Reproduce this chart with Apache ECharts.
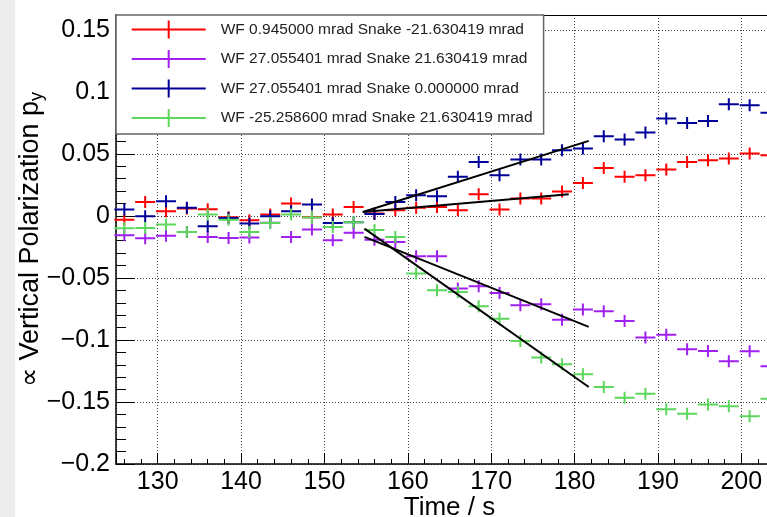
<!DOCTYPE html>
<html>
<head>
<meta charset="utf-8">
<script src="https://cdn.jsdelivr.net/npm/echarts@6/dist/echarts.min.js"></script>
<style>
  html, body { margin: 0; padding: 0; background: #ececec; }
  #chart { position: absolute; left: 15px; top: 0; width: 752px; height: 517px; background: #fff; }
</style>
</head>
<body>
<div id="chart"></div>
<script>
// measurement times (s)
const times = [126, 128.5, 131, 133.5, 136, 138.5, 141, 143.5, 146, 148.5, 151, 153.5, 156, 158.5, 161, 163.5,
  166, 168.5, 171, 173.5, 176, 178.5, 181, 183.5, 186, 188.5, 191, 193.5, 196, 198.5, 201, 203.5];

const redValues = [-0.003, 0.0113, 0.0038, 0.006, 0.0054, -0.001, -0.0035, 0.0011, 0.010, -0.001, 0.0011, 0.0073,
  0.002, 0.0046, 0.0065, 0.0073, 0.0046, 0.0175, 0.0052, 0.014, 0.014, 0.0198, 0.0266, 0.0387, 0.0315, 0.0328,
  0.0374, 0.0435, 0.0449, 0.0463, 0.0503, 0.049];
const purpleValues = [-0.0156, -0.018, -0.016, -0.013, -0.0169, -0.0177, -0.0174, -0.0055, -0.0169, -0.011, -0.0196,
  -0.0136, -0.0193, -0.021, -0.0325, -0.0325, -0.0586, -0.0567, -0.0621, -0.072, -0.0712, -0.0836, -0.0755, -0.0768,
  -0.0847, -0.0981, -0.0957, -0.1075, -0.1089, -0.1172, -0.1091, -0.1212];
const blueValues = [0.0052, -0.0003, 0.0119, 0.0065, -0.0083, -0.0016, -0.0062, -0.0003, 0.0038, 0.0092, -0.0056,
  -0.005, 0.0015, 0.0113, 0.0167, 0.0159, 0.0315, 0.0435, 0.0328, 0.0455, 0.0455, 0.053, 0.0544, 0.0643, 0.0616,
  0.0673, 0.0785, 0.075, 0.0766, 0.0901, 0.0893, 0.0831];
const greenValues = [-0.0099, -0.0097, -0.007, -0.013, 0.0011, -0.003, -0.0129, -0.0056, 0.0011, -0.0013, -0.0089,
  -0.005, -0.0113, -0.0169, -0.0465, -0.06, -0.0613, -0.0728, -0.0828, -0.1008, -0.1142, -0.1196, -0.1277, -0.1379,
  -0.1465, -0.1433, -0.1559, -0.1594, -0.1521, -0.1535, -0.1615, -0.1473];

// linear fits (start / end points)
const redFit = [[154.6, 0.0032], [179.3, 0.0175]];
const purpleFit = [[154.8, -0.0169], [181.7, -0.0895]];
const blueFit = [[154.6, 0.0032], [181.7, 0.0605]];
const greenFit = [[154.8, -0.0102], [181.7, -0.1379]];

const seriesNames = [
  "WF 0.945000 mrad Snake -21.630419 mrad",
  "WF 27.055401 mrad Snake 21.630419 mrad",
  "WF 27.055401 mrad Snake 0.000000 mrad",
  "WF -25.258600 mrad Snake 21.630419 mrad",
];
const seriesColors = ["#ff0000", "#a020f0", "#000099", "#5cd65c"];

const FONT = "'Liberation Sans', Arial, Helvetica, sans-serif";
const CROSS = "path://M0,5H20V7H0Z M9,0H11V12H9Z";
const LEGEND_ICON = "path://M0,8H74V10H0Z M36,0H38V18H36Z";
const GRID_LINE = { show: true, lineStyle: { color: "#444", type: [1, 2], width: 1 } };

const toPairs = (vals) => times.map((t, i) => [t, vals[i]]);

function fmtY(v) {
  const s = String(Math.round(v * 100) / 100);
  return s.replace("-", "\u2212");
}

const valueSets = [redValues, purpleValues, blueValues, greenValues];
const fits = [redFit, purpleFit, blueFit, greenFit];

const series = [];
valueSets.forEach((vals, i) => {
  series.push({
    name: seriesNames[i],
    type: "scatter",
    data: toPairs(vals),
    symbol: CROSS,
    symbolSize: [20, 12],
    itemStyle: { color: seriesColors[i], opacity: 1 },
    z: 2,
  });
});
fits.forEach((fit) => {
  series.push({
    type: "line",
    data: fit,
    symbol: "none",
    lineStyle: { color: "#000", width: 2 },
    z: 3,
  });
});

const chart = echarts.init(document.getElementById("chart"));
chart.setOption({
  animation: false,
  textStyle: { fontFamily: FONT },
  grid: { left: 101, right: -16, top: 15, bottom: 53, containLabel: false, outerBoundsMode: "none" },
  legend: {
    data: seriesNames.map((n) => ({ name: n, icon: LEGEND_ICON })),
    orient: "vertical",
    left: 101,
    top: 15,
    padding: [5.5, 11, 7, 15.7],
    itemWidth: 74,
    itemHeight: 18,
    itemGap: 11.5,
    selectedMode: false,
    backgroundColor: "#fff",
    borderColor: "#666",
    borderWidth: 1.5,
    textStyle: { fontFamily: FONT, fontSize: 15.5, color: "#222", padding: [0, 0, 0, 10] },
    z: 10,
  },
  xAxis: [
    {
      type: "value",
      min: 125,
      max: 205,
      splitNumber: 8,
      axisLine: { show: true, onZero: false, lineStyle: { color: "#000", width: 1.5 } },
      axisTick: { show: true, inside: true, length: 11, lineStyle: { color: "#000", width: 1 } },
      minorTick: { show: true, splitNumber: 5, length: 5, lineStyle: { color: "#000", width: 1 } },
      axisLabel: { showMinLabel: false, showMaxLabel: false, fontSize: 25, color: "#000", margin: 6, fontFamily: FONT },
      splitLine: GRID_LINE,
      name: "Time / s",
      nameLocation: "middle",
      nameMoveOverlap: false,
      nameGap: 31,
      nameTextStyle: { fontSize: 26, color: "#000", fontFamily: FONT },
    },
    {
      type: "value",
      min: 125,
      max: 205,
      position: "top",
      axisLine: { show: true, onZero: false, lineStyle: { color: "#000", width: 1 } },
      axisTick: { show: false },
      axisLabel: { show: false },
      splitLine: { show: false },
    },
  ],
  yAxis: {
    type: "value",
    min: -0.2,
    max: 0.162,
    interval: 0.05,
    axisLine: { show: true, onZero: false, lineStyle: { color: "#000", width: 1.5 } },
    axisTick: { show: true, inside: true, length: 19, lineStyle: { color: "#000", width: 1 } },
    minorTick: { show: true, splitNumber: 5, length: 10, lineStyle: { color: "#000", width: 1 } },
    axisLabel: { showMaxLabel: false, formatter: fmtY, fontSize: 25, color: "#000", margin: 6, fontFamily: FONT },
    splitLine: GRID_LINE,
    name: "\u221d Vertical Polarization p{sub|y}",
    nameLocation: "middle",
    nameMoveOverlap: false,
    nameRotate: 90,
    nameGap: 70,
    nameTextStyle: {
      fontSize: 27,
      color: "#000",
      fontFamily: FONT,
      rich: { sub: { fontSize: 18, fontFamily: FONT, color: "#000", verticalAlign: "bottom", padding: [12, 0, 0, 0] } },
    },
  },
  series: series,
});
</script>
</body>
</html>
